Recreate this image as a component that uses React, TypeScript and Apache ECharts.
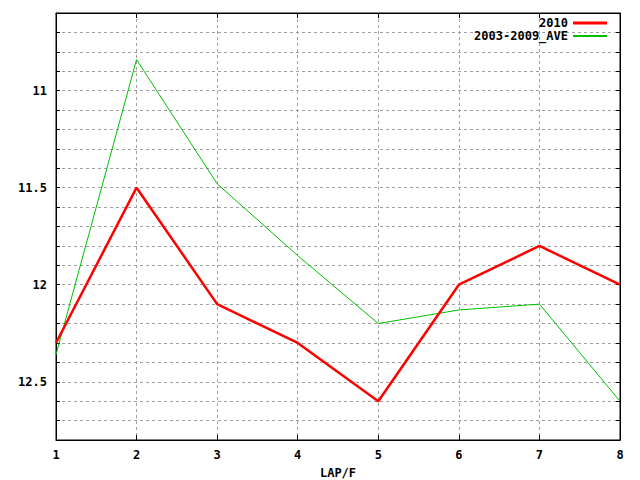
import React, { useEffect, useRef } from "react";
import * as echarts from "echarts";

const laps = [1, 2, 3, 4, 5, 6, 7, 8];
const series2010 = [12.3, 11.5, 12.1, 12.3, 12.6, 12.0, 11.8, 12.0];
const seriesAve = [12.36, 10.84, 11.48, 11.85, 12.2, 12.13, 12.1, 12.6];
const seriesNames = ["2010", "2003-2009_AVE"];
const yLabelValues = [11, 11.5, 12, 12.5];
const xAxisName = "LAP/F";

const FONT = "'DejaVu Sans Mono', monospace";

export default function App() {
  const ref = useRef<HTMLDivElement>(null);
  useEffect(() => {
    if (!ref.current) return;
    const chart = echarts.init(ref.current, null, { renderer: "svg" });
    const grid = { left: 56, right: 20, top: 13, bottom: 40 };
    const gridLine = { show: true, lineStyle: { color: "#a0a0a0", type: [3, 3] as any, width: 1 } };
    const txt = { fontFamily: FONT, fontWeight: "bold" as const, fontSize: 12, color: "#000" };
    chart.setOption({
      animation: false,
      backgroundColor: "#fff",
      grid: { ...grid, show: true, borderColor: "#000", borderWidth: 1, containLabel: false, outerBoundsMode: "none" },
      legend: [
        {
          data: [seriesNames[0]],
          right: 33,
          top: 17,
          align: "right",
          icon: "rect",
          itemWidth: 34,
          itemHeight: 3,
          itemGap: 0,
          padding: 0,
          textStyle: { ...txt, padding: 0, lineHeight: 12 },
        },
        {
          data: [seriesNames[1]],
          right: 33,
          top: 30,
          align: "right",
          icon: "rect",
          itemWidth: 34,
          itemHeight: 2,
          itemGap: 0,
          padding: 0,
          textStyle: { ...txt, padding: 0, lineHeight: 12 },
        },
      ],
      xAxis: [
        {
          type: "value",
          min: 1,
          max: 8,
          interval: 1,
          name: xAxisName,
          nameLocation: "middle",
          nameGap: 27,
          nameTextStyle: { ...txt },
          axisLine: { show: true, lineStyle: { color: "#000" } },
          axisTick: { show: true, inside: true, length: 5, lineStyle: { color: "#000" } },
          axisLabel: { ...txt, margin: 9, formatter: (v: number) => (laps.includes(v) ? String(v) : "") },
          splitLine: gridLine,
        },
        {
          type: "value",
          position: "top",
          min: 1,
          max: 8,
          interval: 1,
          axisLine: { show: true, lineStyle: { color: "#000" } },
          axisTick: { show: true, inside: true, length: 5, lineStyle: { color: "#000" } },
          axisLabel: { show: false },
          splitLine: { show: false },
        },
      ],
      yAxis: [
        {
          type: "value",
          inverse: true,
          min: 10.6,
          max: 12.8,
          interval: 0.1,
          axisLine: { show: true, lineStyle: { color: "#000" } },
          axisTick: { show: true, inside: true, length: 4, lineStyle: { color: "#000" } },
          axisLabel: {
            ...txt,
            margin: 9,
            formatter: (v: number) => {
              const hit = yLabelValues.find((y) => Math.abs(y - v) < 1e-6);
              return hit !== undefined ? String(hit) : "";
            },
          },
          splitLine: gridLine,
        },
        {
          type: "value",
          inverse: true,
          position: "right",
          min: 10.6,
          max: 12.8,
          interval: 0.1,
          axisLine: { show: true, lineStyle: { color: "#000" } },
          axisTick: { show: true, inside: true, length: 4, lineStyle: { color: "#000" } },
          axisLabel: { show: false },
          splitLine: { show: false },
        },
      ],
      series: [
        {
          name: seriesNames[0],
          type: "line",
          data: laps.map((x, i) => [x, series2010[i]]),
          showSymbol: false,
          symbol: "none",
          color: "#ff0000",
          lineStyle: { color: "#ff0000", width: 2.5 },
          z: 3,
        },
        {
          name: seriesNames[1],
          type: "line",
          data: laps.map((x, i) => [x, seriesAve[i]]),
          showSymbol: false,
          symbol: "none",
          color: "#00c000",
          lineStyle: { color: "#00c000", width: 1 },
          z: 2,
        },
      ],
    });
    return () => chart.dispose();
  }, []);
  return <div ref={ref} style={{ width: 640, height: 480, position: "absolute", left: 0, top: 0 }} />;
}
